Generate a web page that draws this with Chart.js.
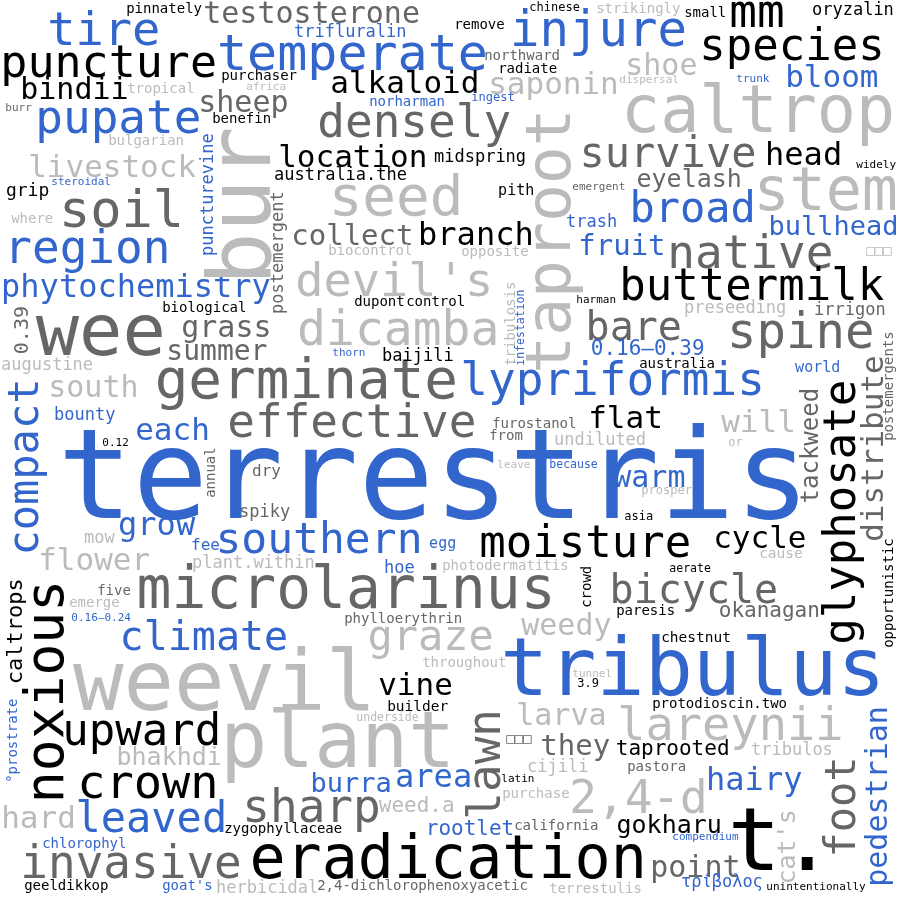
<!DOCTYPE html>
<html>
<head>
<meta charset="utf-8">
<title>tribulus terrestris word cloud</title>
<script src="https://cdn.jsdelivr.net/npm/chart.js@4.4.1/dist/chart.umd.min.js"></script>
<style>
  html, body { margin: 0; padding: 0; background: #ffffff; }
  #cloud { display: block; }
</style>
</head>
<body>
<canvas id="cloud" width="900" height="900"></canvas>
<script>
    // words of the cloud, in drawing order
    const words = [
        'pinnately', 'testosterone', 'tire', 'temperate', 'puncture', 'bindii', 'pupate', 'tropical',
        'burr', 'sheep', 'purchaser', 'africa', 'benefin', 'bulgarian', 'livestock', 'steroidal',
        'grip', 'where', 'soil', 'region', 'phytochemistry', 'puncturevine', 'bur', 'trifluralin',
        'remove', 'chinese', 'injure', 'strikingly', 'northward', 'radiate', 'alkaloid', 'saponin',
        'norharman', 'ingest', 'densely', 'location', 'midspring', 'australia.the', 'taproot', 'seed',
        'pith', 'emergent', 'collect', 'branch', 'trash', 'fruit', 'biocontrol', 'opposite',
        "devil's", 'tribulosis', 'infestation', 'harman', 'dupont', 'control', 'small', 'mm',
        'oryzalin', 'species', 'shoe', 'bloom', 'dispersal', 'trunk', 'caltrop', 'survive',
        'head', 'widely', 'stem', 'eyelash', 'broad', 'bullhead', '\u25A1\u25A1\u25A1', 'native',
        'buttermilk', '0.39', 'wee', 'biological', 'grass', 'summer', 'augustine', 'postemergent',
        'compact', 'south', 'germinate', 'bounty', 'effective', 'each', '0.12', 'terrestris',
        'annual', 'dry', 'spiky', 'grow', 'mow', 'fee', 'southern', 'flower',
        'plant.within', 'caltrops', 'five', 'microlarinus', 'noxious', 'dicamba', 'thorn', 'baijili',
        'bare', 'lypriformis', '0.16\u20130.39', 'australia', 'preseeding', 'irrigon', 'spine', 'world',
        'furostanol', 'from', 'flat', 'will', 'undiluted', 'leave', 'because', 'or',
        'tackweed', 'glyphosate', 'distribute', 'postemergents', 'warm', 'prosper', 'asia', 'moisture',
        'cycle', 'cause', 'opportunistic', 'aerate', 'bicycle', 'egg', 'hoe', 'photodermatitis',
        'crowd', 'emerge', '0.16\u20130.24', 'climate', 'weevil', '\u00B0prostrate', 'upward', 'plant',
        'bhakhdi', 'crown', 'hard', 'leaved', 'sharp', 'zygophyllaceae', 'chlorophyl', 'invasive',
        'eradication', 'geeldikkop', "goat's", 'herbicidal', '2,4-dichlorophenoxyacetic', 'terrestulis', 'phylloerythrin', 'graze',
        'weedy', 'throughout', 'tribulus', 'tunnel', '3.9', 'vine', 'builder', 'underside',
        'lawn', 'larva', '\u25A1\u25A1\u25A1', 'they', 'cijili', 'burra', 'area', 'latin',
        '2,4-d', 'purchase', 'weed.a', 'rootlet', 'california', 'paresis', 'okanagan', 'chestnut',
        'protodioscin.two', 'lareynii', 'taprooted', 'tribulos', 'pastora', 'hairy', 'foot', 'pedestrian',
        'gokharu', "cat's", 't.', 'point', 'compendium', '\u03C4\u03C1\u03AF\u03B2\u03BF\u03BB\u03BF\u03C2', 'unintentionally'
    ];

    // weight of each word (drawn as font px)
    const weights = [
        14, 30, 47, 50, 45, 30, 46, 14,
        11, 30, 14, 11, 14, 14, 31, 11,
        18, 14, 52, 46, 32, 17, 88, 17,
        14, 12, 49, 14, 14, 14, 31, 31,
        14, 12, 46, 31, 17, 17, 63, 56,
        15, 11, 29, 32, 17, 29, 14, 14,
        47, 14, 11.5, 11, 14, 14, 14, 46,
        17, 44, 30, 31, 11, 11, 65, 42,
        32, 11, 60, 25, 42, 27, 14, 46,
        44, 20, 72, 14, 30, 28, 17, 17,
        42, 30, 56, 17, 46, 31, 11, 125,
        14, 16, 17, 32, 17, 16, 43, 31,
        17, 22, 14, 58, 53, 48, 11, 17,
        40, 46, 21, 14, 17, 17, 49, 15,
        14, 14, 31, 31, 17, 11, 11.5, 12,
        24, 44, 31, 14, 30, 12, 12, 44,
        31, 14.5, 14, 11.5, 40, 15, 17, 14,
        14, 14, 11, 40, 84, 14, 44, 78,
        25, 47, 31, 42, 46, 14, 14, 46,
        60, 14, 14, 17, 14, 14, 14, 42,
        30, 14, 80, 11, 12, 31, 14.5, 11.5,
        46, 30, 14, 29, 17, 27, 32, 11,
        46, 14, 21, 21, 14, 14, 21, 14.5,
        14, 47, 21, 17, 14, 32, 42, 30,
        25, 25, 88, 30, 11, 17, 11
    ];

    // placement of each word in the 900 x 900 cloud
    const wordX = [
        127, 205, 50, 220, 3, 22, 38, 128,
        6, 200, 222, 247, 213, 109, 30, 52,
        7, 12, 62, 7, 3, 213, 270, 295,
        455, 530, 513, 597, 485, 499, 332, 490,
        370, 472, 320, 280, 435, 275, 570, 332,
        499, 573, 293, 420, 567, 580, 329, 462,
        298, 515, 524, 577, 355, 407, 685, 732,
        813, 702, 627, 787, 620, 737, 625, 582,
        767, 857, 757, 638, 632, 770, 867, 670,
        622, 28, 40, 163, 183, 168, 2, 283,
        38, 50, 158, 55, 230, 137, 103, 65,
        215, 253, 240, 120, 85, 192, 218, 40,
        193, 22, 98, 140, 63, 300, 333, 383,
        588, 463, 592, 640, 685, 815, 730, 796,
        493, 490, 590, 723, 555, 498, 550, 729,
        818, 855, 883, 893, 615, 642, 625, 482,
        715, 760, 893, 670, 612, 430, 385, 443,
        591, 70, 72, 122, 78, 17, 65, 225,
        118, 80, 3, 78, 245, 225, 43, 23,
        253, 25, 163, 217, 318, 550, 345, 370,
        523, 423, 505, 573, 578, 380, 388, 357,
        500, 518, 507, 542, 528, 312, 397, 502,
        572, 503, 380, 427, 515, 617, 720, 662,
        653, 620, 617, 752, 628, 708, 855, 887,
        618, 795, 733, 652, 673, 682, 767
    ];
    const wordY = [
        13, 23, 45, 70, 77, 99, 133, 93,
        111, 112, 80, 90, 123, 145, 177, 185,
        196, 223, 227, 263, 297, 255, 280, 37,
        29, 11, 46, 13, 60, 73, 93, 94,
        106, 101, 137, 167, 162, 180, 370, 215,
        195, 190, 245, 245, 227, 255, 255, 256,
        296, 365, 365, 303, 306, 306, 17, 27,
        15, 60, 75, 87, 83, 82, 132, 167,
        165, 168, 210, 187, 222, 235, 255, 268,
        300, 353, 355, 312, 337, 360, 370, 313,
        553, 397, 398, 420, 437, 440, 446, 518,
        497, 476, 517, 535, 543, 550, 553, 570,
        568, 683, 595, 608, 800, 345, 356, 361,
        340, 395, 355, 368, 313, 315, 348, 372,
        428, 440, 428, 432, 445, 468, 468, 446,
        502, 642, 540, 440, 487, 494, 520, 557,
        548, 558, 647, 572, 603, 548, 573, 570,
        607, 607, 621, 650, 710, 782, 745, 767,
        765, 798, 828, 832, 822, 833, 848, 878,
        878, 890, 890, 893, 890, 893, 623, 650,
        635, 667, 695, 677, 687, 695, 711, 721,
        817, 725, 743, 755, 772, 792, 787, 782,
        813, 798, 812, 835, 830, 615, 617, 642,
        708, 740, 755, 755, 771, 790, 855, 885,
        833, 883, 870, 877, 840, 887, 890
    ];

    // 1 = word runs upward
    const upright = [
        0, 0, 0, 0, 0, 0, 0, 0,
        0, 0, 0, 0, 0, 0, 0, 0,
        0, 0, 0, 0, 0, 1, 1, 0,
        0, 0, 0, 0, 0, 0, 0, 0,
        0, 0, 0, 0, 0, 0, 1, 0,
        0, 0, 0, 0, 0, 0, 0, 0,
        0, 1, 1, 0, 0, 0, 0, 0,
        0, 0, 0, 0, 0, 0, 0, 0,
        0, 0, 0, 0, 0, 0, 0, 0,
        0, 1, 0, 0, 0, 0, 0, 1,
        1, 0, 0, 0, 0, 0, 0, 0,
        1, 0, 0, 0, 0, 0, 0, 0,
        0, 1, 0, 0, 1, 0, 0, 0,
        0, 0, 0, 0, 0, 0, 0, 0,
        0, 0, 0, 0, 0, 0, 0, 0,
        1, 1, 1, 1, 0, 0, 0, 0,
        0, 0, 1, 0, 0, 0, 0, 0,
        1, 0, 0, 0, 0, 1, 0, 0,
        0, 0, 0, 0, 0, 0, 0, 0,
        0, 0, 0, 0, 0, 0, 0, 0,
        0, 0, 0, 0, 0, 0, 0, 0,
        1, 0, 0, 0, 0, 0, 0, 0,
        0, 0, 0, 0, 0, 0, 0, 0,
        0, 0, 0, 0, 0, 0, 1, 1,
        0, 1, 0, 0, 0, 0, 0
    ];

    // colour group: 0 blue, 1 dark grey, 2 light grey, 3 black
    const group = [
        3, 1, 0, 0, 3, 3, 0, 2,
        1, 1, 3, 2, 3, 2, 2, 0,
        3, 2, 1, 0, 0, 0, 2, 0,
        3, 3, 0, 2, 1, 3, 3, 2,
        0, 0, 1, 3, 3, 3, 2, 2,
        3, 1, 1, 3, 0, 0, 2, 2,
        2, 2, 0, 3, 3, 3, 3, 3,
        3, 3, 2, 0, 2, 0, 2, 1,
        3, 3, 2, 1, 0, 0, 2, 1,
        3, 1, 1, 3, 1, 1, 2, 1,
        0, 2, 1, 0, 1, 0, 3, 0,
        1, 1, 1, 0, 2, 0, 0, 2,
        2, 3, 1, 1, 3, 2, 0, 3,
        1, 0, 0, 3, 2, 1, 1, 0,
        1, 1, 3, 2, 2, 2, 0, 2,
        1, 3, 1, 1, 0, 2, 3, 3,
        3, 2, 3, 3, 1, 0, 0, 2,
        3, 2, 0, 0, 2, 0, 3, 2,
        2, 3, 2, 0, 1, 3, 0, 1,
        3, 3, 0, 2, 1, 2, 1, 2,
        2, 2, 0, 2, 3, 3, 3, 2,
        1, 2, 1, 1, 2, 0, 0, 3,
        2, 2, 2, 0, 1, 3, 1, 3,
        3, 2, 3, 2, 1, 0, 1, 0,
        3, 2, 3, 1, 0, 0, 3
    ];

    const palette = ['#3366cc', '#666666', '#bbbbbb', '#000000'];
    const fontFamily = '"DejaVu Sans Mono", "Liberation Mono", monospace';

    // draws every word at its point, instead of a dot
    const wordPlugin = {
        id: 'wordPlugin',
        afterDatasetsDraw(chart) {
            const ctx = chart.ctx;
            const meta = chart.getDatasetMeta(0);
            meta.data.forEach((pt, i) => {
                const size = weights[i];
                ctx.save();
                ctx.font = size + 'px ' + fontFamily;
                ctx.fillStyle = palette[group[i]];
                ctx.textAlign = 'left';
                ctx.textBaseline = 'alphabetic';
                // small side bearing so the ink starts at the point
                const lead = size * 0.06;
                if (upright[i]) {
                    ctx.translate(pt.x, pt.y + lead);
                    ctx.rotate(-Math.PI / 2);
                } else {
                    ctx.translate(pt.x - lead, pt.y);
                }
                ctx.fillText(words[i], 0, 0);
                ctx.restore();
            });
        }
    };

    const ctx = document.getElementById('cloud').getContext('2d');
    const cloud = new Chart(ctx, {
        type: 'scatter',
        data: {
            datasets: [{
                data: words.map((w, i) => ({ x: wordX[i], y: wordY[i] })),
                pointRadius: 0,
                pointHoverRadius: 0
            }]
        },
        options: {
            responsive: false,
            animation: false,
            events: [],
            layout: { padding: 0 },
            plugins: {
                legend: { display: false },
                tooltip: { enabled: false },
                title: { display: false }
            },
            scales: {
                x: { type: 'linear', min: 0, max: 900, display: false },
                y: { type: 'linear', min: 0, max: 900, reverse: true, display: false }
            }
        },
        plugins: [wordPlugin]
    });
</script>
</body>
</html>
